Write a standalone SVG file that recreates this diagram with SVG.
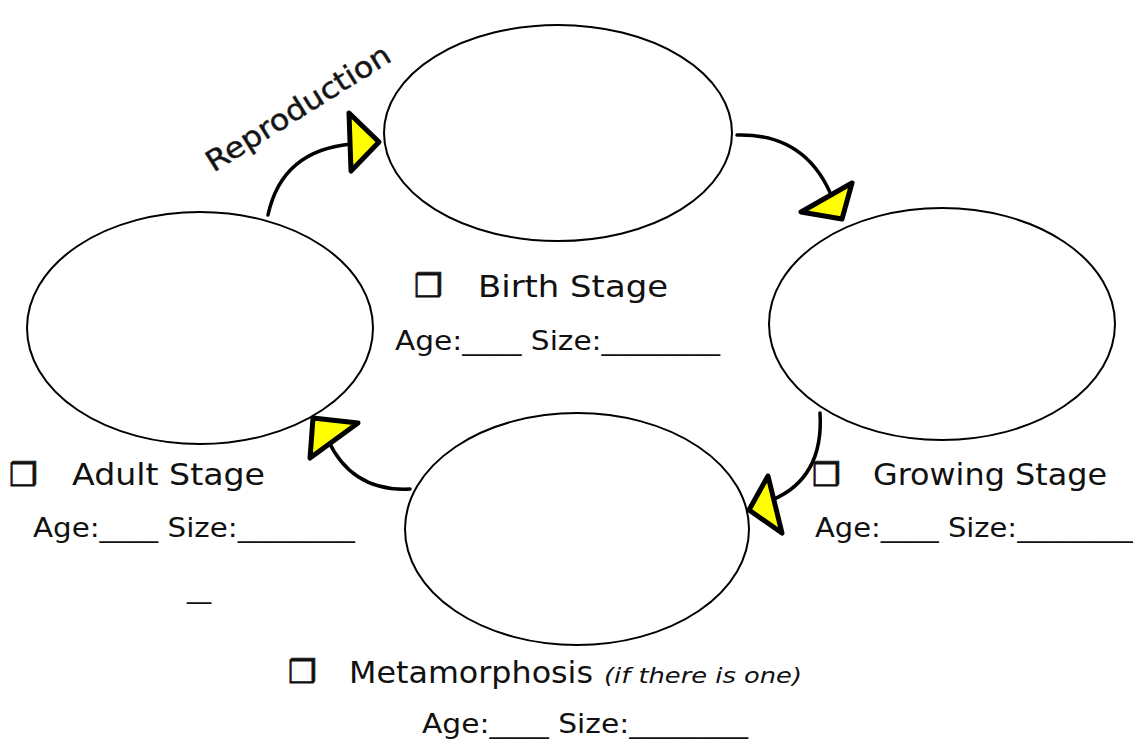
<svg xmlns="http://www.w3.org/2000/svg" width="1133" height="743" viewBox="0 0 1133 743">
<style>
.node ellipse{fill:#fff;stroke:#000;stroke-width:2}
.t{font-family:"DejaVu Sans","Liberation Sans",sans-serif;fill:#111}
.h{font-size:31px}
.a{font-size:26px}
.box{font-size:32px;font-weight:bold;stroke:#111;stroke-width:0.8}
.curve{fill:none;stroke:#000;stroke-width:3.5;stroke-linecap:round}
.head{fill:#ffff00;stroke:#000;stroke-width:5;stroke-linejoin:round}
</style>
<rect width="1133" height="743" fill="#fff"/>
<g id="birth" class="node">
<ellipse cx="558" cy="133" rx="174" ry="108"/>
<text class="t box" x="414" y="297">❒</text>
<text class="t h" x="478" y="297" textLength="190" lengthAdjust="spacingAndGlyphs">Birth Stage</text>
<text class="t a" x="395" y="350" textLength="325" lengthAdjust="spacingAndGlyphs">Age:____ Size:________</text>
</g>
<g id="growing" class="node">
<ellipse cx="942" cy="324" rx="173" ry="116"/>
<text class="t box" x="812" y="486">❒</text>
<text class="t h" x="873" y="485" textLength="234" lengthAdjust="spacingAndGlyphs">Growing Stage</text>
<text class="t a" x="815" y="537" textLength="318" lengthAdjust="spacingAndGlyphs">Age:____ Size:________</text>
</g>
<g id="metamorphosis" class="node">
<ellipse cx="577" cy="529" rx="172" ry="116"/>
<text class="t box" x="288" y="683">❒</text>
<text class="t h" x="349" y="683" textLength="244" lengthAdjust="spacingAndGlyphs">Metamorphosis</text>
<text class="t" x="604" y="683" font-size="21" font-style="italic" textLength="198" lengthAdjust="spacingAndGlyphs">(if there is one)</text>
<text class="t a" x="422" y="733" textLength="326" lengthAdjust="spacingAndGlyphs">Age:____ Size:________</text>
</g>
<g id="adult" class="node">
<ellipse cx="200" cy="328" rx="173" ry="116"/>
<text class="t box" x="9" y="486">❒</text>
<text class="t h" x="72" y="485" textLength="193" lengthAdjust="spacingAndGlyphs">Adult Stage</text>
<text class="t a" x="33" y="537" textLength="322" lengthAdjust="spacingAndGlyphs">Age:____ Size:________</text>
<text class="t a" x="187" y="598" textLength="24" lengthAdjust="spacingAndGlyphs">_</text>
</g>
<g id="connectors">
<path class="curve" d="M268,215 Q282,150 352,144"/>
<polygon class="head" points="349,113 379,142 351,171"/>
<path class="curve" d="M737,135 Q810,133 835,205"/>
<polygon class="head" points="852,183 801,212 842,219"/>
<path class="curve" d="M820,413 Q824,478 772,500"/>
<polygon class="head" points="768,476 749,510 782,533"/>
<path class="curve" d="M410,489 Q352,492 328,440"/>
<polygon class="head" points="313,418 358,423 310,458"/>
<text class="t" font-size="29" fill="#333" stroke="#333" stroke-width="0.5" text-anchor="middle" transform="translate(298,108) rotate(-32)" y="10" textLength="212" lengthAdjust="spacingAndGlyphs">Reproduction</text>
</g>
</svg>
